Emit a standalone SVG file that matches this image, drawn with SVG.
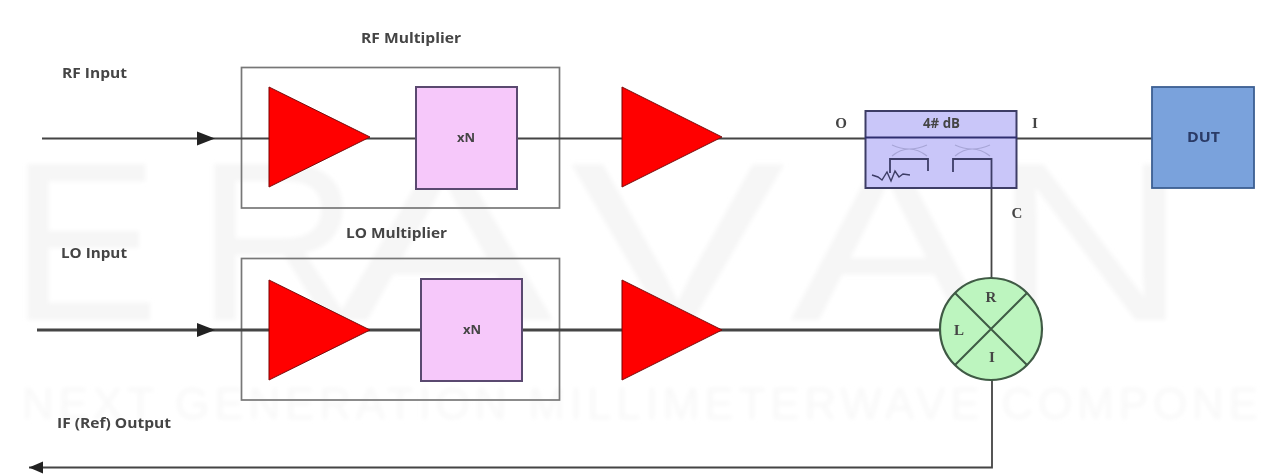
<svg xmlns="http://www.w3.org/2000/svg" width="1261" height="474" viewBox="0 0 1261 474">
<defs>
<filter id="soft" x="-5%" y="-5%" width="110%" height="110%"><feGaussianBlur stdDeviation="0.7"/></filter>
<filter id="wmblur" x="-5%" y="-5%" width="110%" height="110%"><feGaussianBlur stdDeviation="2"/></filter>
<marker id="arrow" markerUnits="userSpaceOnUse" markerWidth="18" markerHeight="16" refX="18" refY="8" orient="auto"><path d="M0 1 L18 8 L0 15 Z" fill="#222"/></marker>
<marker id="arrow-small" markerUnits="userSpaceOnUse" markerWidth="14" markerHeight="14" refX="14" refY="7" orient="auto"><path d="M0 1 L14 7 L0 13 Z" fill="#222"/></marker>
</defs>
<style>
text{font-family:"Open Sans","DejaVu Sans",sans-serif;fill:#444;font-weight:bold}
.wm{font-family:"Liberation Sans",sans-serif;fill:#f6f6f6;font-weight:normal}
.big{font-size:226px}
.lbl{font-size:15px}
.xn{font-size:13px}
.ser{font-family:"Liberation Serif",serif;font-size:15px}
.frame{fill:none;stroke:#777;stroke-width:1.7}
.amp{fill:#f00;stroke:#7a0a0a;stroke-width:1}
.mult{fill:#f6c8fa;stroke:#5a4a70;stroke-width:2}
.wire{fill:none;stroke:#444;stroke-width:1.8}
.thick{fill:none;stroke:#444;stroke-width:2.8}
</style>
<rect width="1261" height="474" fill="#fff"/>
<g id="watermark" filter="url(#wmblur)">
<text class="wm big" x="9" y="320">E</text>
<text class="wm big" x="196" y="320">R</text>
<text class="wm big" transform="translate(335 320) scale(1.45 1)" x="0" y="0">A</text>
<text class="wm big" transform="translate(570 320) scale(1.43 1)" x="0" y="0">V</text>
<text class="wm big" transform="translate(790 320) scale(1.3 1)" x="0" y="0">A</text>
<text class="wm big" transform="translate(992 320) scale(1.2 1)" x="0" y="0">N</text>
<text class="wm" x="22" y="419" font-size="44" textLength="1236" lengthAdjust="spacing" style="fill:#f8f8f8">NEXT GENERATION MILLIMETERWAVE COMPONE</text>
</g>
<g filter="url(#soft)">
<g id="rf-multiplier"><rect class="frame" x="241.500" y="67.500" width="318" height="140.500"/><text class="lbl" x="361" y="43" textLength="100" lengthAdjust="spacingAndGlyphs">RF Multiplier</text></g>
<g id="lo-multiplier"><rect class="frame" x="241.500" y="258.500" width="318" height="141.500"/><text class="lbl" x="346" y="238" textLength="101" lengthAdjust="spacingAndGlyphs">LO Multiplier</text></g>
<g id="connectors">
<path class="wire" d="M42 138.500H215" marker-end="url(#arrow)"/>
<path class="wire" d="M215 138.500H1152"/>
<path class="thick" d="M37 330H215" marker-end="url(#arrow)"/>
<path class="thick" d="M215 330H941"/>
<path class="wire" d="M991.500 159V279"/>
<path class="wire" d="M992 380V467.500H29" marker-end="url(#arrow-small)"/>
</g>
<g id="rf-input"><text class="lbl" x="62" y="78" textLength="65" lengthAdjust="spacingAndGlyphs">RF Input</text></g>
<g id="lo-input"><text class="lbl" x="61" y="258" textLength="66" lengthAdjust="spacingAndGlyphs">LO Input</text></g>
<g id="if-output"><text class="lbl" x="57" y="428" textLength="114" lengthAdjust="spacingAndGlyphs">IF (Ref) Output</text></g>
<g id="rf-amp-1"><polygon class="amp" points="269,87 269,187 370,137"/></g>
<g id="rf-xn"><rect class="mult" x="416" y="87" width="101" height="102"/><text class="xn" x="466" y="142" text-anchor="middle">xN</text></g>
<g id="rf-amp-2"><polygon class="amp" points="622,87 622,187 722,137"/></g>
<g id="lo-amp-1"><polygon class="amp" points="269,280 269,380 370,330"/></g>
<g id="lo-xn"><rect class="mult" x="421" y="279" width="101" height="102"/><text class="xn" x="472" y="334" text-anchor="middle">xN</text></g>
<g id="lo-amp-2"><polygon class="amp" points="622,280 622,380 722,330"/></g>
<g id="coupler">
<rect x="865.500" y="111" width="151" height="77" fill="#c9c6f9" stroke="#3d3d66" stroke-width="2"/>
<path d="M865 137.500H1017" fill="none" stroke="#2f2f70" stroke-width="1.8"/>
<path d="M892 145Q909 153 927 145M892 156Q909 142 927 156M955 145Q972 153 990 145M955 156Q972 142 990 156" fill="none" stroke="#a7a5d6" stroke-width="1.2"/>
<path d="M890 173V159H928V171M953 172V159H991.500V188" fill="none" stroke="#3d3d66" stroke-width="1.8"/>
<path d="M872 175L878 177L882 180L887 172L891 181L895 171L899 177L903 174L910 175" fill="none" stroke="#3d3d66" stroke-width="1.4"/>
<text class="lbl" x="923" y="128" textLength="37" lengthAdjust="spacingAndGlyphs">4# dB</text>
</g>
<g id="dut"><rect x="1152" y="87" width="102" height="101" fill="#7aa2dc" stroke="#3c5f92" stroke-width="1.8"/><text class="lbl" x="1187" y="142" textLength="33" lengthAdjust="spacingAndGlyphs" style="fill:#2a3a66">DUT</text></g>
<g id="mixer">
<circle cx="991" cy="329" r="51" fill="#bdf5bf" stroke="#3f5a45" stroke-width="2.2"/>
<path d="M955 293L1027 365M1027 293L955 365" fill="none" stroke="#3f5a45" stroke-width="2"/>
<text class="ser" x="991" y="302" text-anchor="middle">R</text><text class="ser" x="959" y="335" text-anchor="middle">L</text><text class="ser" x="992" y="362" text-anchor="middle">I</text>
</g>
<text class="ser" x="841" y="128" text-anchor="middle">O</text>
<text class="ser" x="1035" y="128" text-anchor="middle">I</text>
<text class="ser" x="1017" y="218" text-anchor="middle">C</text>
</g>
</svg>
